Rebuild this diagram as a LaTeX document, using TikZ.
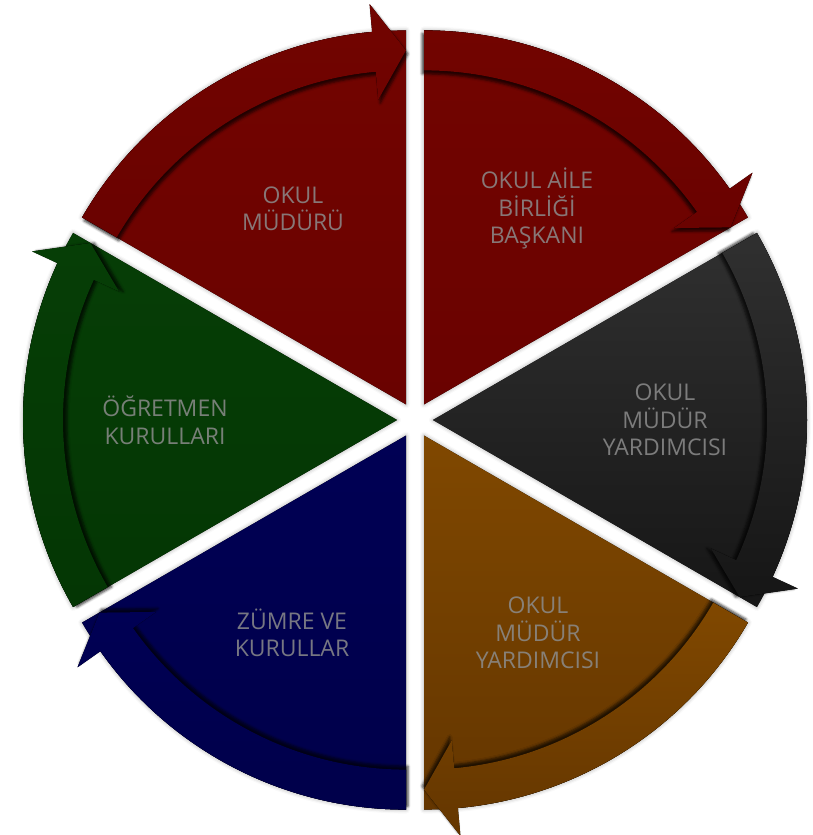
\documentclass[tikz,border=0pt]{standalone}
\usepackage{fontspec}
\setmainfont{Open Sans}
\usetikzlibrary{calc,shadows.blur}
\definecolor{redA}{RGB}{114,4,0}
\definecolor{redB}{RGB}{106,2,0}
\definecolor{grayA}{RGB}{48,48,48}
\definecolor{grayB}{RGB}{22,22,22}
\definecolor{brownA}{RGB}{128,72,0}
\definecolor{brownB}{RGB}{100,54,0}
\definecolor{navyA}{RGB}{0,0,84}
\definecolor{navyB}{RGB}{0,0,74}
\definecolor{greenA}{RGB}{6,62,6}
\definecolor{greenB}{RGB}{4,54,4}
\definecolor{txtgray}{RGB}{140,140,140}
\tikzset{
  lbl/.style={align=center, text=txtgray, text opacity=0.85,
    font=\fontsize{23}{27.5}\selectfont, inner sep=0pt},
  sectshadow/.style={blur shadow={shadow xshift=0pt, shadow yshift=0pt,
    shadow blur radius=4pt, shadow opacity=35}}
}
\newcommand{\arrowpath}[1]{%
  ({#1+60}:374) arc[start angle={#1+60}, end angle={#1+5.2}, radius=374]
  -- ({#1+5.2}:402) -- ({#1}:354) -- ({#1+5.2}:306) -- ({#1+5.2}:334)
  arc[start angle={#1+5.2}, end angle={#1+60}, radius=334] -- cycle}
\newcommand{\segment}[3]{%
  \pgfmathsetmacro\segmid{#1+30}%
  \pgfmathsetmacro\segsx{-4*cos(\segmid)}%
  \pgfmathsetmacro\segsy{-4*sin(\segmid)}%
  \begin{scope}[shift={(415,415)}, shift={(\segmid:18)}]
    \fill[top color=#2, bottom color=#3, sectshadow]
      (0,0) -- ({#1}:374) arc[start angle={#1}, end angle={#1+60}, radius=374] -- cycle;
    \fill[top color=#2, bottom color=#3,
      blur shadow={shadow xshift=\segsx pt, shadow yshift=\segsy pt,
        shadow blur radius=2.5pt, shadow opacity=70}]
      \arrowpath{#1};
  \end{scope}}
\begin{document}
\begin{tikzpicture}[x=1pt,y=1pt]
\useasboundingbox (0,0) rectangle (812,835);
\segment{90}{redA}{redB}
\segment{30}{redA}{redB}
\segment{-30}{grayA}{grayB}
\segment{-90}{brownA}{brownB}
\segment{210}{navyA}{navyB}
\segment{150}{greenA}{greenB}
\node[lbl] (t1) at ($(415,415)+(120:244)$) {OKUL\\MÜDÜRÜ};
\node[lbl] (t2) at ($(415,415)+(60:244)$) {OKUL AİLE\\BİRLİĞİ\\BAŞKANI};
\node[lbl] (t3) at ($(415,415)+(0:250)$) {OKUL\\MÜDÜR\\YARDIMCISI};
\node[lbl] (t4) at ($(415,415)+(-60:246)$) {OKUL\\MÜDÜR\\YARDIMCISI};
\node[lbl] (t5) at ($(415,415)+(240:246)$) {ZÜMRE VE\\KURULLAR};
\node[lbl] (t6) at ($(415,415)+(180:250)$) {ÖĞRETMEN\\KURULLARI};
\end{tikzpicture}
\end{document}
